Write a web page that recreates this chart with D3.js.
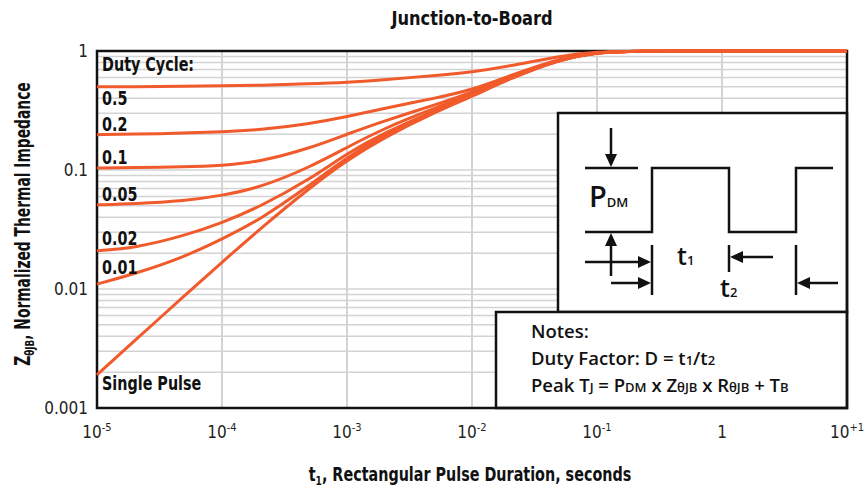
<!DOCTYPE html>
<html>
<head>
<meta charset="utf-8">
<script src="https://cdn.jsdelivr.net/npm/d3@7"></script>
<style>
  body { margin: 0; background: #fff; }
  svg { display: block; }
  .narrow { font-family: "Liberation Sans Narrow", "DejaVu Sans Condensed", "Arial Narrow", sans-serif; }
  .notes { font-family: "Open Sans", "Liberation Sans", sans-serif; font-weight: 600; }
</style>
</head>
<body>
<div id="chart"></div>
<script>
// pulse duration, seconds
var t = [1e-5, 2e-5, 5e-5, 1e-4, 2e-4, 5e-4, 1e-3, 2e-3, 5e-3, 1e-2, 2e-2, 5e-2, 1e-1, 2e-1, 1, 10];

// normalized thermal impedance per duty cycle
var d05  = [0.50, 0.50, 0.505, 0.51, 0.515, 0.53, 0.545, 0.575, 0.62, 0.665, 0.745, 0.91, 0.985, 1.0, 1.0, 1.0];
var d02  = [0.198, 0.20, 0.204, 0.209, 0.217, 0.244, 0.28, 0.33, 0.40, 0.47, 0.62, 0.87, 0.98, 1.0, 1.0, 1.0];
var d01  = [0.104, 0.105, 0.106, 0.109, 0.117, 0.152, 0.20, 0.26, 0.35, 0.45, 0.605, 0.86, 0.98, 1.0, 1.0, 1.0];
var d005 = [0.051, 0.052, 0.055, 0.061, 0.071, 0.105, 0.155, 0.225, 0.33, 0.435, 0.60, 0.855, 0.978, 1.0, 1.0, 1.0];
var d002 = [0.021, 0.0221, 0.028, 0.036, 0.049, 0.083, 0.138, 0.206, 0.315, 0.425, 0.595, 0.852, 0.977, 1.0, 1.0, 1.0];
var d001 = [0.011, 0.0134, 0.0186, 0.0263, 0.038, 0.074, 0.128, 0.198, 0.31, 0.42, 0.59, 0.85, 0.976, 1.0, 1.0, 1.0];
var dsp  = [0.0019, 0.00367, 0.00877, 0.0168, 0.0318, 0.0706, 0.121, 0.189, 0.305, 0.415, 0.585, 0.849, 0.975, 1.0, 1.0, 1.0];

var series = [d05, d02, d01, d005, d002, d001, dsp];
var curveLabels = ["0.5", "0.2", "0.1", "0.05", "0.02", "0.01", "Single Pulse"];
var curveLabelVals = [0.352, 0.213, 0.112, 0.0548, 0.0235, 0.0133, 0.00141];

// axis ticks
var xTicks = [1e-5, 1e-4, 1e-3, 1e-2, 1e-1, 1, 10];
var xTickBase = ["10", "10", "10", "10", "10", "1", "10"];
var xTickExp = ["-5", "-4", "-3", "-2", "-1", "", "+1"];
var yTicks = [1, 0.1, 0.01, 0.001];
var yTickText = ["1", "0.1", "0.01", "0.001"];

var W = 866, H = 492;
var pLeft = 97, pRight = 847, pTop = 51, pBottom = 408;
var squeeze = 0.84; // the original font is a condensed face

var svg = d3.select("#chart").append("svg")
    .attr("width", W)
    .attr("height", H);

var x = d3.scaleLog().domain([1e-5, 10]).range([pLeft, pRight]);
var y = d3.scaleLog().domain([0.001, 1]).range([pBottom, pTop]);

// grid
var minorY = [];
[0.001, 0.01, 0.1].forEach(function (dec) {
    for (var k = 2; k <= 9; k++) minorY.push(dec * k);
});
svg.append("g").selectAll("line")
   .data(minorY.concat([0.01, 0.1]))
   .enter().append("line")
   .attr("x1", pLeft).attr("x2", pRight)
   .attr("y1", function (d) { return y(d); })
   .attr("y2", function (d) { return y(d); })
   .attr("stroke", "#d3d3d3")
   .attr("stroke-width", 1.5);

svg.append("g").selectAll("line")
   .data(xTicks.slice(1, -1))
   .enter().append("line")
   .attr("x1", function (d) { return x(d); })
   .attr("x2", function (d) { return x(d); })
   .attr("y1", pTop).attr("y2", pBottom)
   .attr("stroke", "#d3d3d3")
   .attr("stroke-width", 2);

// inset boxes
svg.append("rect")
   .attr("x", 558).attr("y", 113).attr("width", pRight - 558).attr("height", 312 - 113)
   .attr("fill", "#fff").attr("stroke", "#111").attr("stroke-width", 2.5);
svg.append("rect")
   .attr("x", 496).attr("y", 312).attr("width", pRight - 496).attr("height", pBottom - 312)
   .attr("fill", "#fff").attr("stroke", "#111").attr("stroke-width", 2.5);

// frame
svg.append("rect")
   .attr("x", pLeft).attr("y", pTop).attr("width", pRight - pLeft).attr("height", pBottom - pTop)
   .attr("fill", "none").attr("stroke", "#111").attr("stroke-width", 2.5);

// curves
var line = d3.line()
    .x(function (d) { return x(d[0]); })
    .y(function (d) { return y(d[1]); })
    .curve(d3.curveBasis);

svg.append("g").selectAll("path")
   .data(series)
   .enter().append("path")
   .attr("d", function (s) { return line(s.map(function (v, i) { return [t[i], v]; })); })
   .attr("fill", "none")
   .attr("stroke", "#f15a2b")
   .attr("stroke-width", 3);

// curve labels
var lab = svg.append("g")
   .attr("transform", "translate(102,0) scale(" + squeeze + ",1)");

lab.append("text").attr("class", "narrow")
   .attr("x", 0).attr("y", 71)
   .attr("font-size", 19).attr("font-weight", "bold").attr("fill", "#111")
   .text("Duty Cycle:");

lab.selectAll("text.cl")
   .data(curveLabels)
   .enter().append("text")
   .attr("class", "narrow cl")
   .attr("x", 0)
   .attr("y", function (d, i) { return y(curveLabelVals[i]); })
   .attr("font-size", 19).attr("font-weight", "bold").attr("fill", "#111")
   .text(function (d) { return d; });

// x tick labels
var xt = svg.append("g").selectAll("text")
   .data(xTicks)
   .enter().append("text")
   .attr("class", "narrow")
   .attr("x", function (d) { return x(d); })
   .attr("y", 438)
   .attr("text-anchor", "middle")
   .attr("font-size", 17).attr("fill", "#222");
xt.append("tspan").text(function (d, i) { return xTickBase[i]; });
xt.append("tspan")
  .attr("font-size", 11).attr("dy", -7)
  .text(function (d, i) { return xTickExp[i]; });

// y tick labels
svg.append("g").selectAll("text")
   .data(yTicks)
   .enter().append("text")
   .attr("class", "narrow")
   .attr("x", 88)
   .attr("y", function (d) { return y(d) + 6; })
   .attr("text-anchor", "end")
   .attr("font-size", 17).attr("fill", "#222")
   .text(function (d, i) { return yTickText[i]; });

// title
svg.append("text").attr("class", "narrow")
   .attr("transform", "translate(472,25) scale(0.95,1)")
   .attr("text-anchor", "middle")
   .attr("font-size", 19).attr("font-weight", "bold").attr("fill", "#111")
   .text("Junction-to-Board");

// x axis title
var xl = svg.append("text").attr("class", "narrow")
   .attr("transform", "translate(470,481) scale(" + squeeze + ",1)")
   .attr("text-anchor", "middle")
   .attr("font-size", 19).attr("font-weight", "bold").attr("fill", "#111");
xl.append("tspan").text("t");
xl.append("tspan").attr("font-size", 12).attr("dy", 4).text("1");
xl.append("tspan").attr("dy", -4).text(", Rectangular Pulse Duration, seconds");

// y axis title
var yl = svg.append("text").attr("class", "narrow")
   .attr("transform", "translate(30,224) rotate(-90) scale(0.75,1)")
   .attr("text-anchor", "middle")
   .attr("font-size", 20.5).attr("font-weight", "bold").attr("fill", "#111");
yl.append("tspan").text("Z");
yl.append("tspan").attr("font-size", 13).attr("dy", 4).text("θJB");
yl.append("tspan").attr("dy", -4).text(", Normalized Thermal Impedance");

// pulse diagram
var ink = "#111";
var hi = 168, lo = 232;
svg.append("polyline")
   .attr("points", [[585, lo], [652, lo], [652, hi], [729, hi], [729, lo], [796, lo], [796, hi], [833, hi]].join(" "))
   .attr("fill", "none").attr("stroke", ink).attr("stroke-width", 2.5);
svg.append("line").attr("x1", 585).attr("x2", 638).attr("y1", hi).attr("y2", hi)
   .attr("stroke", ink).attr("stroke-width", 2.5);

[[652, 245, 295], [729, 245, 272], [796, 245, 295]].forEach(function (v) {
    svg.append("line").attr("x1", v[0]).attr("x2", v[0]).attr("y1", v[1]).attr("y2", v[2])
       .attr("stroke", ink).attr("stroke-width", 2.5);
});

function arrow(x1, y1, x2, y2) {
    var a = Math.atan2(y2 - y1, x2 - x1), L = 13, w = 6;
    var bx = x2 - L * Math.cos(a), by = y2 - L * Math.sin(a);
    svg.append("line").attr("x1", x1).attr("y1", y1).attr("x2", bx).attr("y2", by)
       .attr("stroke", ink).attr("stroke-width", 2.5);
    svg.append("path")
       .attr("d", "M" + x2 + "," + y2 +
            "L" + (bx + w * Math.sin(a)) + "," + (by - w * Math.cos(a)) +
            "L" + (bx - w * Math.sin(a)) + "," + (by + w * Math.cos(a)) + "Z")
       .attr("fill", ink);
}
arrow(611, 128, 611, hi - 1);
arrow(611, 276, 611, lo + 1);
arrow(585, 262, 651, 262);
arrow(611, 283, 651, 283);
arrow(773, 257, 730, 257);
arrow(838, 283, 797, 283);

var pdm = svg.append("text").attr("class", "notes")
   .attr("x", 589).attr("y", 207).attr("font-size", 29).attr("font-weight", 700).attr("fill", ink);
pdm.append("tspan").text("P");
pdm.append("tspan").attr("font-size", 13).text("DM");

var t1 = svg.append("text").attr("class", "notes")
   .attr("x", 677).attr("y", 265).attr("font-size", 25).attr("font-weight", 700).attr("fill", ink);
t1.append("tspan").text("t");
t1.append("tspan").attr("font-size", 13).text("1");

var t2 = svg.append("text").attr("class", "notes")
   .attr("x", 720).attr("y", 297).attr("font-size", 25).attr("font-weight", 700).attr("fill", ink);
t2.append("tspan").text("t");
t2.append("tspan").attr("font-size", 13).text("2");

// notes
svg.append("text").attr("class", "notes")
   .attr("x", 531).attr("y", 338).attr("font-size", 18.5).attr("fill", ink)
   .text("Notes:");

var n2 = svg.append("text").attr("class", "notes")
   .attr("x", 531).attr("y", 365).attr("font-size", 18.5).attr("fill", ink);
n2.append("tspan").text("Duty Factor: D = t");
n2.append("tspan").attr("font-size", 13).text("1");
n2.append("tspan").text("/t");
n2.append("tspan").attr("font-size", 13).text("2");

var n3 = svg.append("text").attr("class", "notes")
   .attr("x", 531).attr("y", 392).attr("font-size", 18.5).attr("fill", ink);
n3.append("tspan").text("Peak T");
n3.append("tspan").attr("font-size", 13).text("J");
n3.append("tspan").text(" = P");
n3.append("tspan").attr("font-size", 13).text("DM");
n3.append("tspan").text(" x Z");
n3.append("tspan").attr("font-size", 13).text("θJB");
n3.append("tspan").text(" x R");
n3.append("tspan").attr("font-size", 13).text("θJB");
n3.append("tspan").text(" + T");
n3.append("tspan").attr("font-size", 13).text("B");
</script>
</body>
</html>
